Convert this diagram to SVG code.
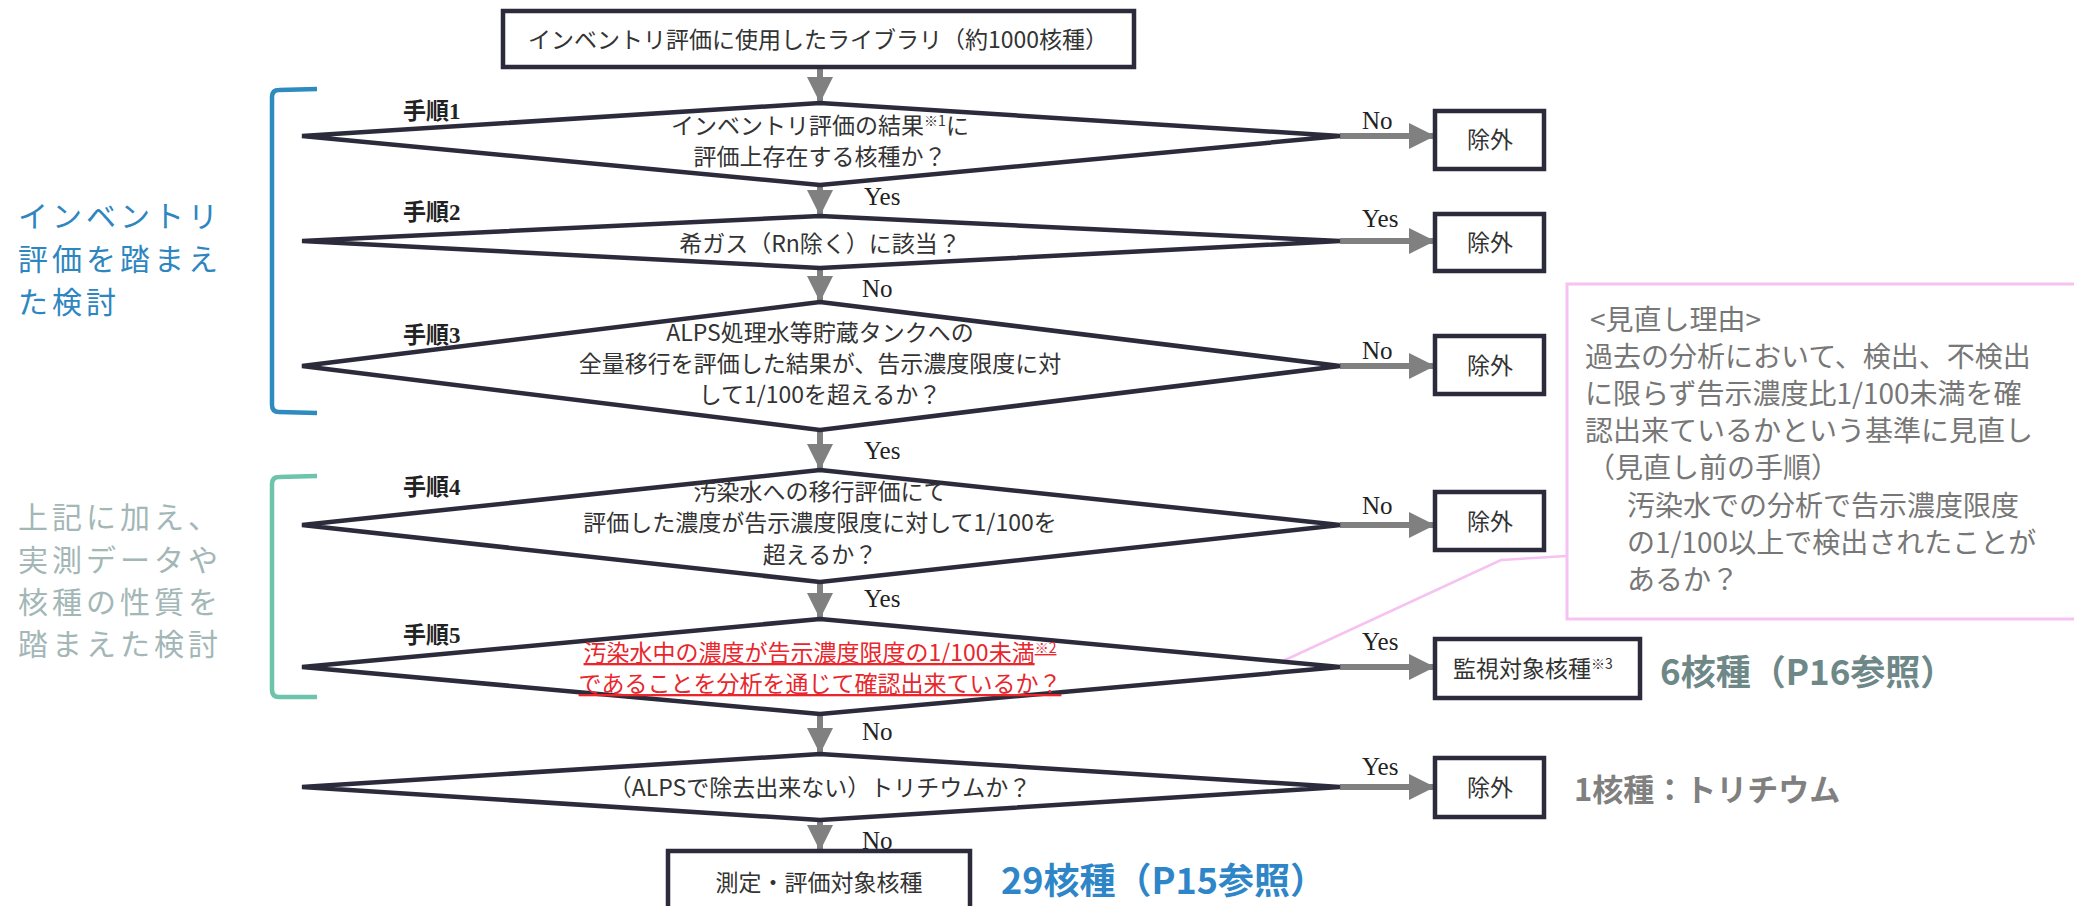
<svg xmlns="http://www.w3.org/2000/svg" width="2074" height="906" viewBox="0 0 2074 906">
<defs>
<style>
.dia{fill:#fff;stroke:#2b2b3b;stroke-width:4.5;stroke-linejoin:miter}
.box{fill:#fff;stroke:#2b2b3b;stroke-width:4.5}
.t{font-family:"Noto Sans CJK JP","Liberation Sans",sans-serif;font-size:23px;fill:#333;text-anchor:middle}
.red{fill:#e8262c;text-decoration:underline}
.step{font-family:"Liberation Serif","Noto Sans CJK JP",serif;font-size:23px;font-weight:bold;fill:#222}
.yn{font-family:"Liberation Serif",serif;font-size:25px;fill:#222}
.arr{stroke:#808080;stroke-width:6;fill:none}
.note{font-family:"Noto Sans CJK JP",sans-serif;font-size:28px;fill:#777}
.cnt{font-family:"Noto Sans CJK JP",sans-serif;font-weight:bold}
.side{font-family:"Noto Sans CJK JP",sans-serif;font-size:30px;letter-spacing:4px}
</style>
<marker id="ah" markerUnits="userSpaceOnUse" markerWidth="26" markerHeight="30" viewBox="0 0 10 10" refX="10" refY="5" orient="auto">
<path d="M0,0 L10,5 L0,10 z" fill="#808080"/>
</marker>
</defs>
<rect width="2074" height="906" fill="#fff"/>

<g id="side-labels">
<path d="M317,89 L279,90 Q272,90 272,97 L272,405 Q272,412 279,412 L317,413" fill="none" stroke="#2e8bc0" stroke-width="4.5"/>
<path d="M317,476 L279,477 Q272,477 272,484 L272,690 Q272,697 279,697 L317,697" fill="none" stroke="#6cc4aa" stroke-width="4.5"/>
<g class="side" fill="#2e86c1">
<text x="18" y="227">インベントリ</text>
<text x="18" y="270">評価を踏まえ</text>
<text x="18" y="313">た検討</text>
</g>
<g class="side" fill="#a3b7b7">
<text x="18" y="528">上記に加え、</text>
<text x="18" y="571">実測データや</text>
<text x="18" y="613">核種の性質を</text>
<text x="18" y="655">踏まえた検討</text>
</g>
</g>

<g id="connectors">
<path class="arr" d="M820,67 V103" marker-end="url(#ah)"/>
<path class="arr" d="M820,185 V216" marker-end="url(#ah)"/>
<path class="arr" d="M820,268 V302" marker-end="url(#ah)"/>
<path class="arr" d="M820,430 V470" marker-end="url(#ah)"/>
<path class="arr" d="M820,582 V619" marker-end="url(#ah)"/>
<path class="arr" d="M820,714 V754" marker-end="url(#ah)"/>
<path class="arr" d="M820,820 V851" marker-end="url(#ah)"/>
<path class="arr" d="M1340,136 H1435" marker-end="url(#ah)"/>
<path class="arr" d="M1340,241 H1435" marker-end="url(#ah)"/>
<path class="arr" d="M1340,366 H1435" marker-end="url(#ah)"/>
<path class="arr" d="M1340,525 H1435" marker-end="url(#ah)"/>
<path class="arr" d="M1340,667 H1435" marker-end="url(#ah)"/>
<path class="arr" d="M1340,787 H1435" marker-end="url(#ah)"/>
<g class="yn">
<text x="864" y="205">Yes</text>
<text x="862" y="297">No</text>
<text x="864" y="459">Yes</text>
<text x="864" y="607">Yes</text>
<text x="862" y="740">No</text>
<text x="862" y="849">No</text>
<text x="1362" y="129">No</text>
<text x="1362" y="227">Yes</text>
<text x="1362" y="359">No</text>
<text x="1362" y="514">No</text>
<text x="1362" y="650">Yes</text>
<text x="1362" y="775">Yes</text>
</g>
<path d="M1567,556 L1501,560 L1283,661" fill="none" stroke="#f6c2f2" stroke-width="2.5"/>
</g>

<g id="start">
<rect class="box" x="503" y="11" width="631" height="56"/>
<text class="t" x="818" y="48">インベントリ評価に使用したライブラリ（約1000核種）</text>
</g>

<g id="step1">
<polygon class="dia" points="820,103 1340,136 820,185 302,136"/>
<text class="step" x="403" y="119">手順1</text>
<text class="t" x="820" y="134">インベントリ評価の結果<tspan font-size="14" dy="-8">※1</tspan><tspan dy="8">に</tspan></text>
<text class="t" x="820" y="165">評価上存在する核種か？</text>
</g>

<g id="step2">
<polygon class="dia" points="820,216 1340,241 820,268 302,241"/>
<text class="step" x="403" y="220">手順2</text>
<text class="t" x="820" y="252">希ガス（Rn除く）に該当？</text>
</g>

<g id="step3">
<polygon class="dia" points="820,302 1340,366 820,430 302,366"/>
<text class="step" x="403" y="343">手順3</text>
<text class="t" x="820" y="341">ALPS処理水等貯蔵タンクへの</text>
<text class="t" x="820" y="372">全量移行を評価した結果が、告示濃度限度に対</text>
<text class="t" x="820" y="403">して1/100を超えるか？</text>
</g>

<g id="step4">
<polygon class="dia" points="820,470 1340,525 820,582 302,525"/>
<text class="step" x="403" y="495">手順4</text>
<text class="t" x="820" y="500">汚染水への移行評価にて</text>
<text class="t" x="820" y="531">評価した濃度が告示濃度限度に対して1/100を</text>
<text class="t" x="820" y="563">超えるか？</text>
</g>

<g id="step5">
<polygon class="dia" points="820,619 1340,667 820,714 302,667"/>
<text class="step" x="403" y="643">手順5</text>
<text class="t red" x="820" y="661">汚染水中の濃度が告示濃度限度の1/100未満<tspan font-size="14" dy="-8">※2</tspan></text>
<text class="t red" x="820" y="692">であることを分析を通じて確認出来ているか？</text>
</g>

<g id="step6">
<polygon class="dia" points="820,754 1340,787 820,820 302,787"/>
<text class="t" x="820" y="796">（ALPSで除去出来ない）トリチウムか？</text>
</g>

<g id="end">
<rect class="box" x="668" y="851" width="302" height="70"/>
<text class="t" x="819" y="891">測定・評価対象核種</text>
<text class="cnt" x="1001" y="894" fill="#2e86c8" style="font-size:36px">29核種（P15参照）</text>
</g>

<g id="ex1">
<rect class="box" x="1435" y="111" width="109" height="58"/>
<text class="t" x="1490" y="148">除外</text>
</g>
<g id="ex2">
<rect class="box" x="1435" y="214" width="109" height="57"/>
<text class="t" x="1490" y="251">除外</text>
</g>
<g id="ex3">
<rect class="box" x="1435" y="336" width="109" height="58"/>
<text class="t" x="1490" y="374">除外</text>
</g>
<g id="ex4">
<rect class="box" x="1435" y="492" width="109" height="58"/>
<text class="t" x="1490" y="530">除外</text>
</g>
<g id="monitor">
<rect class="box" x="1435" y="639" width="205" height="59"/>
<text class="t" x="1533" y="677">監視対象核種<tspan font-size="14" dy="-8">※3</tspan></text>
<text class="cnt" x="1660" y="685" fill="#6e8888" style="font-size:35px">6核種（P16参照）</text>
</g>
<g id="ex6">
<rect class="box" x="1435" y="758" width="109" height="59"/>
<text class="t" x="1490" y="796">除外</text>
<text class="cnt" x="1574" y="801" fill="#808080" style="font-size:31px">1核種：トリチウム</text>
</g>

<g id="note">
<rect x="1567" y="284" width="540" height="335" fill="#fff" stroke="#f6c2f2" stroke-width="3"/>
<text class="note" x="1590" y="330">&lt;見直し理由&gt;</text>
<text class="note" x="1585" y="367">過去の分析において、検出、不検出</text>
<text class="note" x="1585" y="404">に限らず告示濃度比1/100未満を確</text>
<text class="note" x="1585" y="441">認出来ているかという基準に見直し</text>
<text class="note" x="1587" y="478">（見直し前の手順）</text>
<text class="note" x="1627" y="516">汚染水での分析で告示濃度限度</text>
<text class="note" x="1627" y="553">の1/100以上で検出されたことが</text>
<text class="note" x="1627" y="590">あるか？</text>
</g>
</svg>
